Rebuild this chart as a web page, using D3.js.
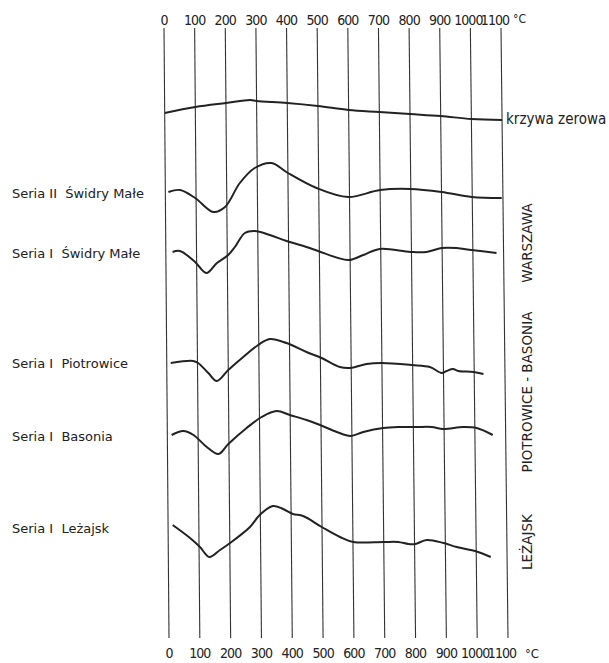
<!DOCTYPE html>
<html>
<head>
<meta charset="utf-8">
<script src="https://cdn.jsdelivr.net/npm/d3@7"></script>
<style>
  body { margin: 0; background: #fff; }
  text { fill: #222; white-space: pre; }
</style>
</head>
<body>
<div id="chart"></div>
<script>
// Temperature ticks (°C)
const temps = [0, 100, 200, 300, 400, 500, 600, 700, 800, 900, 1000, 1100];

// DTA curves: [temperature °C, deflection in chart divisions, counted downward]
const zeroCurve = [[0, 8.5], [100, 7.9], [200, 7.5], [280, 7.2], [300, 7.3], [400, 7.5], [500, 7.8], [600, 8.2], [700, 8.4], [800, 8.6], [900, 8.8], [1000, 9.1], [1100, 9.2]];
const swidry2 = [[10, 16.4], [48, 16.2], [97, 17.0], [156, 18.4], [194, 17.9], [243, 15.5], [292, 14.0], [347, 13.5], [395, 14.4], [493, 16.0], [596, 16.9], [700, 16.2], [797, 16.1], [900, 16.4], [998, 16.9], [1096, 17.0]];
const swidry1 = [[22, 22.4], [46, 22.3], [95, 23.4], [131, 24.5], [166, 23.5], [203, 22.7], [225, 21.9], [258, 20.5], [290, 20.3], [339, 20.7], [394, 21.3], [469, 22.0], [496, 22.3], [594, 23.2], [643, 22.7], [697, 22.1], [797, 22.4], [849, 22.4], [898, 22.0], [947, 22.0], [996, 22.2], [1077, 22.5]];
const piotrowice = [[13, 33.5], [86, 33.3], [102, 33.5], [135, 34.5], [162, 35.3], [200, 34.2], [249, 32.9], [298, 31.7], [336, 31.1], [390, 31.5], [455, 32.4], [504, 33.0], [563, 33.9], [596, 34.0], [650, 33.6], [699, 33.5], [797, 33.7], [856, 33.9], [894, 34.5], [910, 34.3], [931, 34.1], [948, 34.3], [997, 34.4], [1030, 34.6]];
const basonia = [[14, 40.7], [52, 40.3], [85, 40.7], [128, 41.9], [166, 42.6], [198, 41.6], [258, 40.0], [307, 38.9], [356, 38.3], [399, 38.7], [453, 39.2], [497, 39.7], [551, 40.4], [596, 40.8], [637, 40.4], [702, 40.0], [757, 39.9], [811, 39.9], [860, 39.9], [897, 40.1], [962, 39.9], [1006, 40.0], [1058, 40.7]];
const lezajsk = [[15, 49.7], [71, 51.0], [103, 51.9], [133, 52.9], [168, 52.2], [201, 51.5], [266, 49.9], [298, 48.7], [341, 47.8], [374, 48.1], [406, 48.6], [439, 48.8], [499, 49.9], [558, 50.9], [601, 51.4], [699, 51.4], [747, 51.4], [780, 51.6], [802, 51.6], [840, 51.2], [894, 51.5], [937, 51.9], [996, 52.3], [1047, 52.9]];

const curves = [zeroCurve, swidry2, swidry1, piotrowice, basonia, lezajsk];

// Series names on the left
const seriesNames = ["Seria II  Świdry Małe", "Seria I  Świdry Małe", "Seria I  Piotrowice", "Seria I  Basonia", "Seria I  Leżajsk"];
const seriesLevel = [16.5, 22.5, 33.5, 40.8, 50.0];

// Locality groups on the right
const groups = ["WARSZAWA", "PIOTROWICE - BASONIA", "LEŻAJSK"];
const groupLevel = [21.5, 36.4, 51.4];

const width = 609, height = 663;
const condensed = "'DejaVu Sans Condensed', 'DejaVu Sans', sans-serif";
const regular = "'DejaVu Sans', sans-serif";

const svg = d3.select("#chart")
    .append("svg")
    .attr("width", width)
    .attr("height", height);

// Scales - the scanned grid leans slightly, so top and bottom get their own x scale
const y = d3.scaleLinear().domain([0, 61]).range([28, 638]);
const xTop = d3.scaleLinear().domain([0, 1100]).range([164, 501]);
const xBot = d3.scaleLinear().domain([0, 1100]).range([169, 508]);
const xAt = (t, py) => xTop(t) + (xBot(t) - xTop(t)) * (py - y(0)) / (y(61) - y(0));

// Vertical grid lines
svg.append("g")
    .selectAll("line")
    .data(temps)
    .enter().append("line")
    .attr("x1", d => xTop(d))
    .attr("x2", d => xBot(d))
    .attr("y1", y(0))
    .attr("y2", y(61))
    .attr("stroke", "#333")
    .attr("stroke-width", 1.1);

// Top and bottom tick labels (the last two sit a little left of their lines)
const nudge = d => d === 1100 ? -6 : d === 1000 ? -2 : 0;

svg.append("g")
    .style("font-family", condensed)
    .attr("font-size", 14)
    .attr("letter-spacing", -0.9)
    .attr("text-anchor", "middle")
    .selectAll("text")
    .data(temps)
    .enter().append("text")
    .attr("x", d => xTop(d) + nudge(d))
    .attr("y", 25)
    .text(d => d);

svg.append("g")
    .style("font-family", condensed)
    .attr("font-size", 14)
    .attr("letter-spacing", -0.9)
    .attr("text-anchor", "middle")
    .selectAll("text")
    .data(temps)
    .enter().append("text")
    .attr("x", d => xBot(d) + nudge(d))
    .attr("y", 658)
    .text(d => d);

svg.append("text").style("font-family", condensed).attr("x", xTop(1100) + 12).attr("y", 23).attr("font-size", 12).text("°C");
svg.append("text").style("font-family", condensed).attr("x", xBot(1100) + 17).attr("y", 658).attr("font-size", 13).text("°C");

// Curves
const line = d3.line()
    .x(d => xAt(d[0], y(d[1])))
    .y(d => y(d[1]))
    .curve(d3.curveCatmullRom.alpha(0.5));

svg.append("g")
    .selectAll("path")
    .data(curves)
    .enter().append("path")
    .attr("d", line)
    .attr("fill", "none")
    .attr("stroke", "#222")
    .attr("stroke-width", 2)
    .attr("stroke-linejoin", "round");

// Label for the zero curve
svg.append("text")
    .style("font-family", condensed)
    .attr("x", xAt(1100, y(9.2)) + 4)
    .attr("y", y(9.2) + 4)
    .attr("font-size", 15)
    .text("krzywa zerowa");

// Series labels
svg.append("g")
    .style("font-family", regular)
    .attr("font-size", 13)
    .selectAll("text")
    .data(seriesNames)
    .enter().append("text")
    .attr("x", 12)
    .attr("y", (d, i) => y(seriesLevel[i]) + 5)
    .text(d => d);

// Group labels, rotated
svg.append("g")
    .style("font-family", regular)
    .attr("font-size", 13.5)
    .attr("text-anchor", "middle")
    .selectAll("text")
    .data(groups)
    .enter().append("text")
    .attr("transform", (d, i) => `translate(532,${y(groupLevel[i])}) rotate(-90)`)
    .text(d => d);
</script>
</body>
</html>
